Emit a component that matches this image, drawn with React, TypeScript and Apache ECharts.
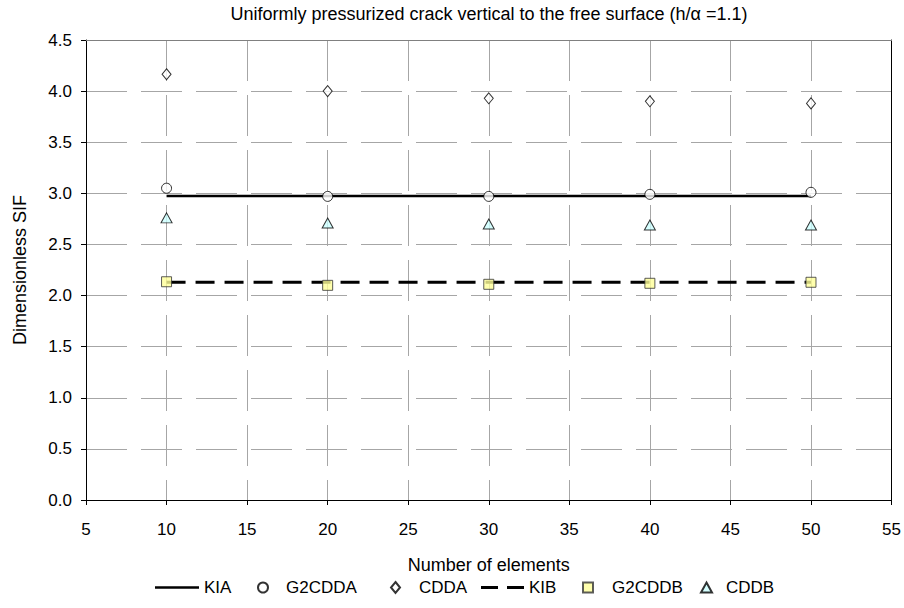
import React, { useEffect, useRef } from "react";
import * as echarts from "echarts";

const elements = [10, 20, 30, 40, 50];
const kiaValue = 2.975;
const kibValue = 2.13;
const g2cddaValues = [3.05, 2.97, 2.97, 2.99, 3.01];
const cddaValues = [4.165, 4.0, 3.93, 3.9, 3.88];
const g2cddbValues = [2.135, 2.1, 2.11, 2.12, 2.13];
const cddbValues = [2.76, 2.71, 2.7, 2.69, 2.69];
const lineEnds = [10, 50];
const titleText = "Uniformly pressurized crack vertical to the free surface (h/\u03b1 =1.1)";

const FONT = "Liberation Sans, Arial, sans-serif";

const pair = (xs: number[], ys: number[]) => xs.map((x, i) => [x, ys[i]]);

export default function App() {
  const ref = useRef<HTMLDivElement>(null);
  useEffect(() => {
    if (!ref.current) return;
    const chart = echarts.init(ref.current, undefined, { renderer: "svg" });
    const gridLine = { color: "#a6a6a6", width: 1, type: [41, 14] as any };
    const legendText = (pad: number) => ({
      fontFamily: FONT,
      fontSize: 17,
      color: "#000",
      padding: [0, 0, 0, pad],
    });
    const legendBase = { top: 579, selectedMode: false, padding: 0 };
    chart.setOption({
      animation: false,
      backgroundColor: "#fff",
      graphic: [
        {
          type: "text",
          x: 489,
          y: 14,
          style: {
            text: titleText,
            fontFamily: FONT,
            fontSize: 18,
            fill: "#000",
            textAlign: "center",
            textVerticalAlign: "middle",
          },
        },
      ],
      grid: { left: 86, right: 12, top: 40, bottom: 108, containLabel: false },
      xAxis: [
        {
          type: "value",
          min: 5,
          max: 55,
          interval: 5,
          name: "Number of elements",
          nameLocation: "middle",
          nameGap: 56,
          nameTextStyle: { fontFamily: FONT, fontSize: 18, color: "#000" },
          axisLine: { show: true, onZero: false, lineStyle: { color: "#000", width: 1 } },
          axisTick: { show: true, length: 5, lineStyle: { color: "#000" } },
          axisLabel: { fontFamily: FONT, fontSize: 17, color: "#000", margin: 21 },
          splitLine: { show: true, lineStyle: gridLine },
        },
        {
          type: "value",
          position: "top",
          min: 5,
          max: 55,
          interval: 5,
          axisLine: { show: true, onZero: false, lineStyle: { color: "#808080", width: 1 } },
          axisTick: { show: false },
          axisLabel: { show: false },
          splitLine: { show: false },
        },
      ],
      yAxis: [
        {
          type: "value",
          min: 0,
          max: 4.5,
          interval: 0.5,
          name: "Dimensionless SIF",
          nameLocation: "middle",
          nameGap: 57,
          nameTextStyle: { fontFamily: FONT, fontSize: 18, color: "#000" },
          axisLine: { show: true, onZero: false, lineStyle: { color: "#000", width: 1 } },
          axisTick: { show: true, length: 5, lineStyle: { color: "#000" } },
          axisLabel: {
            fontFamily: FONT,
            fontSize: 17,
            color: "#000",
            margin: 14,
            formatter: (v: number) => v.toFixed(1),
          },
          splitLine: { show: true, lineStyle: gridLine },
        },
        {
          type: "value",
          position: "right",
          min: 0,
          max: 4.5,
          interval: 0.5,
          axisLine: { show: true, onZero: false, lineStyle: { color: "#000", width: 1 } },
          axisTick: { show: false },
          axisLabel: { show: false },
          splitLine: { show: false },
        },
      ],
      legend: [
        {
          ...legendBase,
          left: 155,
          itemWidth: 44,
          itemHeight: 2.5,
          textStyle: legendText(0),
          data: [{ name: "KIA", icon: "rect" }],
        },
        {
          ...legendBase,
          left: 257,
          itemWidth: 10,
          itemHeight: 10,
          textStyle: legendText(13),
          data: ["G2CDDA"],
        },
        {
          ...legendBase,
          left: 390,
          itemWidth: 9,
          itemHeight: 11,
          textStyle: legendText(14),
          data: ["CDDA"],
        },
        {
          ...legendBase,
          left: 481,
          itemWidth: 43,
          itemHeight: 3,
          textStyle: legendText(0),
          data: [{ name: "KIB", icon: "path://M0,0H17V3H0Z M26,0H43V3H26Z" }],
        },
        {
          ...legendBase,
          left: 582,
          itemWidth: 10,
          itemHeight: 10,
          textStyle: legendText(14),
          data: ["G2CDDB"],
        },
        {
          ...legendBase,
          left: 700,
          itemWidth: 11,
          itemHeight: 10,
          textStyle: legendText(9),
          data: ["CDDB"],
        },
      ],
      series: [
        {
          name: "KIA",
          type: "line",
          data: pair(lineEnds, [kiaValue, kiaValue]),
          symbol: "none",
          lineStyle: { color: "#000", width: 2.5, type: "solid" },
          itemStyle: { color: "#000" },
          z: 3,
        },
        {
          name: "G2CDDA",
          type: "scatter",
          data: pair(elements, g2cddaValues),
          symbol: "circle",
          symbolSize: 10,
          itemStyle: { color: "#fff", borderColor: "#000", borderWidth: 1 },
          z: 4,
        },
        {
          name: "CDDA",
          type: "scatter",
          data: pair(elements, cddaValues),
          symbol: "diamond",
          symbolSize: [9, 11],
          itemStyle: { color: "#fff", borderColor: "#000", borderWidth: 1 },
          z: 4,
        },
        {
          name: "KIB",
          type: "line",
          data: pair(lineEnds, [kibValue, kibValue]),
          symbol: "none",
          lineStyle: { color: "#000", width: 3, type: [19, 10] as any },
          itemStyle: { color: "#000" },
          z: 3,
        },
        {
          name: "G2CDDB",
          type: "scatter",
          data: pair(elements, g2cddbValues),
          symbol: "rect",
          symbolSize: 10,
          itemStyle: { color: "#ffff99", borderColor: "#333", borderWidth: 1 },
          z: 4,
        },
        {
          name: "CDDB",
          type: "scatter",
          data: pair(elements, cddbValues),
          symbol: "triangle",
          symbolSize: [11, 10],
          itemStyle: { color: "#ccffff", borderColor: "#000", borderWidth: 1 },
          z: 4,
        },
      ],
    });
    return () => chart.dispose();
  }, []);
  return <div ref={ref} style={{ width: 904, height: 608, position: "fixed", left: 0, top: 0 }} />;
}
